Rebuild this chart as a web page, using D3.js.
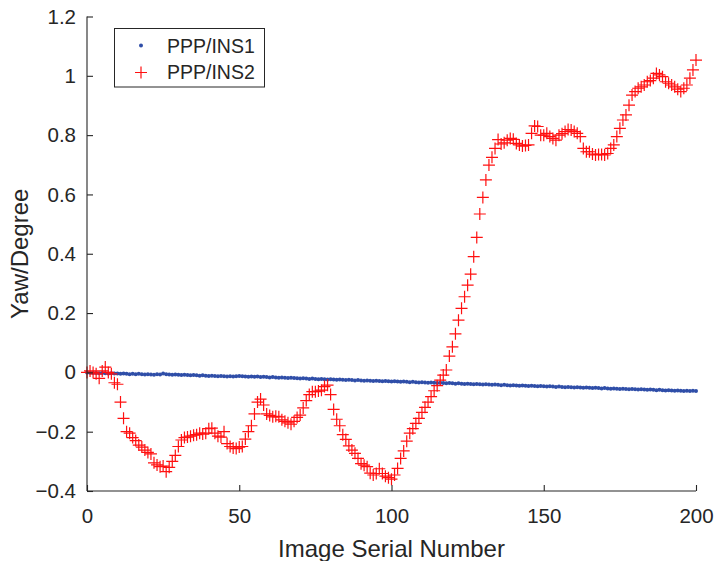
<!DOCTYPE html>
<html>
<head>
<meta charset="utf-8">
<script src="https://cdn.jsdelivr.net/npm/d3@7"></script>
<style>
  body { margin: 0; background: #fff; }
  text { font-family: "Liberation Sans", Arial, Helvetica, sans-serif; fill: #262626; }
</style>
</head>
<body>
<svg id="chart"></svg>
<script>
// image serial numbers 0..200
const serial = d3.range(0, 201);

const ins1 = [
  0.000, -0.001, -0.002, -0.002, -0.003, -0.002, -0.003, -0.004, -0.003, -0.004,
  -0.004, -0.005, -0.004, -0.005, -0.006, -0.005, -0.006, -0.005, -0.006, -0.007,
  -0.006, -0.007, -0.008, -0.006, -0.007, -0.004, -0.006, -0.007, -0.008, -0.007,
  -0.008, -0.009, -0.008, -0.009, -0.010, -0.009, -0.010, -0.011, -0.010, -0.011,
  -0.012, -0.011, -0.012, -0.013, -0.012, -0.013, -0.014, -0.013, -0.014, -0.013,
  -0.012, -0.013, -0.014, -0.015, -0.014, -0.015, -0.014, -0.016, -0.015, -0.016,
  -0.017, -0.016, -0.017, -0.018, -0.017, -0.018, -0.019, -0.018, -0.019, -0.020,
  -0.021, -0.020, -0.021, -0.022, -0.021, -0.022, -0.023, -0.022, -0.023, -0.024,
  -0.023, -0.024, -0.025, -0.024, -0.025, -0.026, -0.025, -0.026, -0.027, -0.026,
  -0.027, -0.028, -0.027, -0.028, -0.029, -0.028, -0.029, -0.030, -0.029, -0.030,
  -0.031, -0.030, -0.031, -0.032, -0.031, -0.032, -0.033, -0.032, -0.033, -0.034,
  -0.033, -0.034, -0.035, -0.034, -0.035, -0.036, -0.035, -0.036, -0.037, -0.036,
  -0.037, -0.038, -0.037, -0.038, -0.039, -0.038, -0.039, -0.040, -0.039, -0.040,
  -0.041, -0.040, -0.041, -0.042, -0.041, -0.042, -0.043, -0.042, -0.043, -0.044,
  -0.043, -0.044, -0.045, -0.044, -0.045, -0.046, -0.045, -0.046, -0.047, -0.046,
  -0.047, -0.048, -0.047, -0.048, -0.049, -0.048, -0.049, -0.050, -0.049, -0.050,
  -0.051, -0.050, -0.051, -0.052, -0.051, -0.052, -0.053, -0.052, -0.053, -0.054,
  -0.053, -0.054, -0.055, -0.054, -0.055, -0.056, -0.055, -0.056, -0.057, -0.056,
  -0.057, -0.058, -0.057, -0.058, -0.059, -0.058, -0.059, -0.060, -0.059, -0.060,
  -0.061, -0.060, -0.061, -0.062, -0.061, -0.062, -0.063, -0.062, -0.063, -0.062,
  -0.063
];

const ins2 = [
  0.000, 0.005, 0.000, -0.005, -0.020, 0.005, 0.018, 0.000, -0.005, -0.035,
  -0.040, -0.100, -0.155, -0.200, -0.205, -0.220, -0.230, -0.245, -0.252, -0.262,
  -0.270, -0.275, -0.305, -0.312, -0.318, -0.316, -0.335, -0.320, -0.300, -0.280,
  -0.250, -0.228, -0.220, -0.218, -0.215, -0.212, -0.210, -0.205, -0.208, -0.205,
  -0.190, -0.188, -0.205, -0.215, -0.218, -0.200, -0.240, -0.250, -0.255, -0.257,
  -0.252, -0.250, -0.225, -0.200, -0.180, -0.140, -0.100, -0.090, -0.110, -0.140,
  -0.145, -0.150, -0.148, -0.150, -0.160, -0.165, -0.170, -0.175, -0.165, -0.152,
  -0.144, -0.120, -0.095, -0.075, -0.065, -0.065, -0.063, -0.060, -0.048, -0.043,
  -0.075, -0.125, -0.158, -0.180, -0.210, -0.226, -0.248, -0.262, -0.273, -0.290,
  -0.308, -0.313, -0.318, -0.340, -0.346, -0.341, -0.325, -0.341, -0.350, -0.355,
  -0.360, -0.346, -0.324, -0.290, -0.265, -0.232, -0.205, -0.190, -0.172, -0.155,
  -0.135, -0.118, -0.100, -0.082, -0.062, -0.045, -0.026, -0.009, 0.008, 0.055,
  0.086, 0.130, 0.176, 0.216, 0.255, 0.294, 0.331, 0.390, 0.455, 0.534,
  0.590, 0.649, 0.699, 0.725, 0.755, 0.785, 0.770, 0.774, 0.783, 0.789,
  0.786, 0.772, 0.767, 0.763, 0.765, 0.767, 0.806, 0.831, 0.829, 0.800,
  0.800, 0.806, 0.795, 0.789, 0.783, 0.800, 0.805, 0.812, 0.819, 0.817,
  0.812, 0.806, 0.795, 0.755, 0.744, 0.744, 0.736, 0.733, 0.735, 0.735,
  0.733, 0.738, 0.755, 0.767, 0.795, 0.823, 0.851, 0.868, 0.901, 0.935,
  0.947, 0.958, 0.963, 0.969, 0.980, 0.984, 0.992, 1.008, 1.003, 0.997,
  0.980, 0.975, 0.969, 0.963, 0.955, 0.947, 0.958, 0.969, 0.992, 1.020,
  1.053
];

const xTicks = [0, 50, 100, 150, 200];
const yTicks = [-0.4, -0.2, 0, 0.2, 0.4, 0.6, 0.8, 1, 1.2];
const seriesNames = ['PPP/INS1', 'PPP/INS2'];

const W = 716, H = 561;
const margin = { top: 16.5, right: 20, bottom: 70, left: 87 };
const width = W - margin.left - margin.right;
const height = H - margin.top - margin.bottom;
const axisColor = '#262626';
const blue = '#2f4ea8';
const red = '#ff1010';

const svg = d3.select('#chart')
  .attr('width', W)
  .attr('height', H);

const g = svg.append('g')
  .attr('transform', `translate(${margin.left},${margin.top})`);

const xScale = d3.scaleLinear().domain([0, 200]).range([0, width]);
const yScale = d3.scaleLinear().domain([-0.4, 1.2]).range([height, 0]);

// Blue dots
g.append('g')
  .selectAll('circle')
  .data(serial)
  .enter()
  .append('circle')
  .attr('cx', i => xScale(i))
  .attr('cy', i => yScale(ins1[i]))
  .attr('r', 2)
  .attr('fill', blue);

// Red plus markers
const plus = 'M-6,0H6M0,-6V6';
g.append('g')
  .selectAll('path')
  .data(serial)
  .enter()
  .append('path')
  .attr('d', plus)
  .attr('transform', i => `translate(${xScale(i)},${yScale(ins2[i])})`)
  .attr('stroke', red)
  .attr('stroke-width', 1.2)
  .attr('fill', 'none');

// Axes, ticks pointing inward
const xAxis = g.append('g')
  .attr('transform', `translate(0,${height})`)
  .call(d3.axisBottom(xScale).tickValues(xTicks).tickSize(-6).tickPadding(17).tickFormat(d3.format('d')));

const yAxis = g.append('g')
  .call(d3.axisLeft(yScale).tickValues(yTicks).tickSize(-6).tickPadding(11).tickFormat(d => d3.format('')(+d.toFixed(1))));

[xAxis, yAxis].forEach(a => {
  a.select('.domain').attr('stroke', axisColor).attr('stroke-width', 1.1);
  a.selectAll('.tick line').attr('stroke', axisColor).attr('stroke-width', 1.1);
  a.selectAll('.tick text')
    .attr('fill', axisColor)
    .style('font-size', '20.5px')
    .style('font-family', '"Liberation Sans", Arial, sans-serif');
});
yAxis.select('.domain').attr('d', `M0,0V${height}`);
xAxis.select('.domain').attr('d', `M0,0H${width}`);

// Axis labels
svg.append('text')
  .attr('x', margin.left + width / 2)
  .attr('y', 556.5)
  .attr('text-anchor', 'middle')
  .style('font-size', '24px')
  .text('Image Serial Number');

svg.append('text')
  .attr('transform', `translate(28,${margin.top + height / 2}) rotate(-90)`)
  .attr('text-anchor', 'middle')
  .style('font-size', '24px')
  .text('Yaw/Degree');

// Legend
const legend = svg.append('g');
legend.append('rect')
  .attr('x', 114.5)
  .attr('y', 28.5)
  .attr('width', 150)
  .attr('height', 58.5)
  .attr('fill', '#fff')
  .attr('stroke', axisColor)
  .attr('stroke-width', 1);

legend.append('circle')
  .attr('cx', 141)
  .attr('cy', 45.5)
  .attr('r', 2)
  .attr('fill', blue);

legend.append('path')
  .attr('d', plus)
  .attr('transform', 'translate(141,72.5)')
  .attr('stroke', red)
  .attr('stroke-width', 1.2);

legend.selectAll('text.lg')
  .data(seriesNames)
  .enter()
  .append('text')
  .attr('class', 'lg')
  .attr('x', 167)
  .attr('y', (d, i) => 52.7 + i * 26)
  .style('font-size', '19.5px')
  .attr('fill', '#000')
  .text(d => d);
</script>
</body>
</html>
